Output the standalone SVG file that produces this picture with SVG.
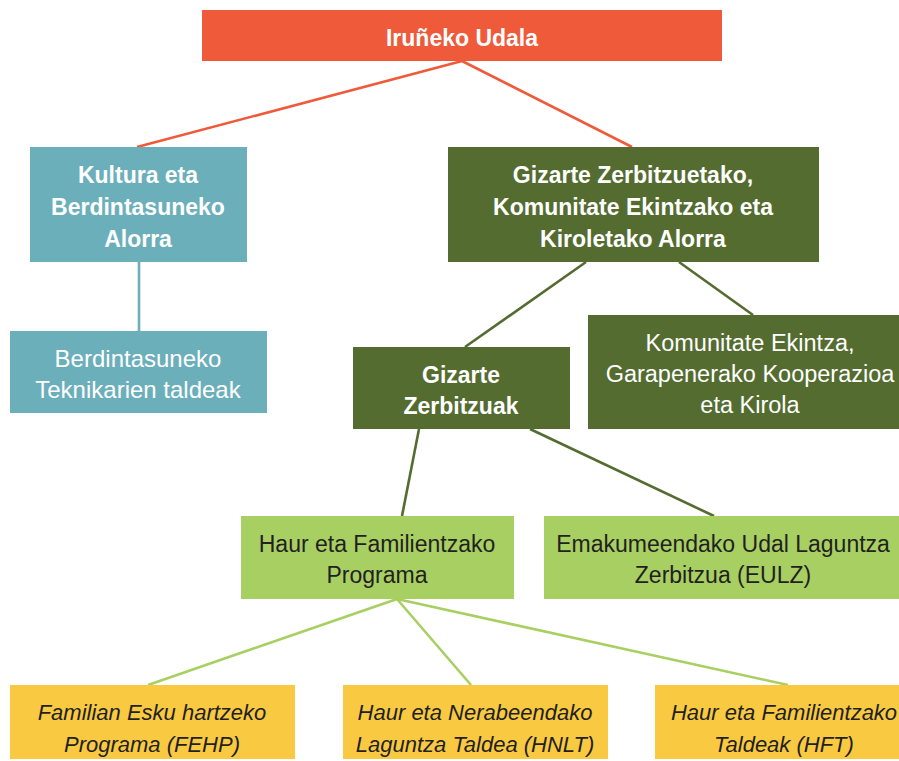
<svg xmlns="http://www.w3.org/2000/svg" width="899" height="761" viewBox="0 0 899 761">
<style>
text{font-family:"Liberation Sans",Arial,sans-serif;text-anchor:middle;font-size:23px}
.w{fill:#ffffff}
.b{font-weight:bold}
.d{fill:#231f20}
.i{font-style:italic;font-size:22px}
.c line{stroke-width:2.6}
</style>
<rect width="899" height="761" fill="#ffffff"/>
<g class="c" id="connectors">
<line x1="462" y1="61" x2="137" y2="147" stroke="#ef5a3a"/>
<line x1="462" y1="61" x2="632" y2="147" stroke="#ef5a3a"/>
<line x1="139" y1="262" x2="139" y2="331" stroke="#6bafbb"/>
<line x1="586" y1="262" x2="465" y2="347" stroke="#546c30"/>
<line x1="679" y1="262" x2="753" y2="315" stroke="#546c30"/>
<line x1="419" y1="429" x2="402" y2="516" stroke="#546c30"/>
<line x1="530" y1="429" x2="714" y2="516" stroke="#546c30"/>
<line x1="397" y1="599" x2="148" y2="685" stroke="#a8cf62"/>
<line x1="397" y1="599" x2="471" y2="685" stroke="#a8cf62"/>
<line x1="397" y1="599" x2="788" y2="685" stroke="#a8cf62"/>
</g>
<g id="iruneko">
<rect x="202" y="10" width="520" height="51" fill="#ef5a3a"/>
<text x="462" y="46" class="w b">Iruñeko Udala</text>
</g>
<g id="kultura">
<rect x="30" y="147" width="217" height="115" fill="#6bafbb"/>
<text x="138" y="183" class="w b">Kultura eta</text>
<text x="138" y="215" class="w b">Berdintasuneko</text>
<text x="138" y="247" class="w b">Alorra</text>
</g>
<g id="berdintasun">
<rect x="10" y="331" width="257" height="82" fill="#6bafbb"/>
<text x="138" y="367" class="w" style="font-size:24px">Berdintasuneko</text>
<text x="138" y="398" class="w" style="font-size:24px">Teknikarien taldeak</text>
</g>
<g id="gizarte-alorra">
<rect x="448" y="147" width="371" height="115" fill="#546c30"/>
<text x="633" y="183" class="w b">Gizarte Zerbitzuetako,</text>
<text x="633" y="215" class="w b">Komunitate Ekintzako eta</text>
<text x="633" y="247" class="w b">Kiroletako Alorra</text>
</g>
<g id="komunitate">
<rect x="588" y="315" width="311" height="114" fill="#546c30"/>
<text x="750" y="351" class="w" style="font-size:23.5px">Komunitate Ekintza,</text>
<text x="750" y="382" class="w" style="font-size:23.5px">Garapenerako Kooperazioa</text>
<text x="750" y="413" class="w" style="font-size:23.5px">eta Kirola</text>
</g>
<g id="gizarte-zerbitzuak">
<rect x="353" y="347" width="217" height="82" fill="#546c30"/>
<text x="461" y="383" class="w b">Gizarte</text>
<text x="461" y="414" class="w b">Zerbitzuak</text>
</g>
<g id="haur-programa">
<rect x="241" y="516" width="273" height="83" fill="#a8cf62"/>
<text x="377" y="552" class="d">Haur eta Familientzako</text>
<text x="377" y="583" class="d">Programa</text>
</g>
<g id="eulz">
<rect x="544" y="516" width="355" height="83" fill="#a8cf62"/>
<text x="723" y="552" class="d">Emakumeendako Udal Laguntza</text>
<text x="723" y="583" class="d">Zerbitzua (EULZ)</text>
</g>
<g id="fehp">
<rect x="10" y="685" width="285" height="74" fill="#f9c942"/>
<text x="152" y="720" class="d i">Familian Esku hartzeko</text>
<text x="152" y="752" class="d i">Programa (FEHP)</text>
</g>
<g id="hnlt">
<rect x="343" y="685" width="265" height="74" fill="#f9c942"/>
<text x="475" y="720" class="d i">Haur eta Nerabeendako</text>
<text x="475" y="752" class="d i">Laguntza Taldea (HNLT)</text>
</g>
<g id="hft">
<rect x="655" y="685" width="244" height="74" fill="#f9c942"/>
<text x="784" y="720" class="d i">Haur eta Familientzako</text>
<text x="784" y="752" class="d i">Taldeak (HFT)</text>
</g>
</svg>
